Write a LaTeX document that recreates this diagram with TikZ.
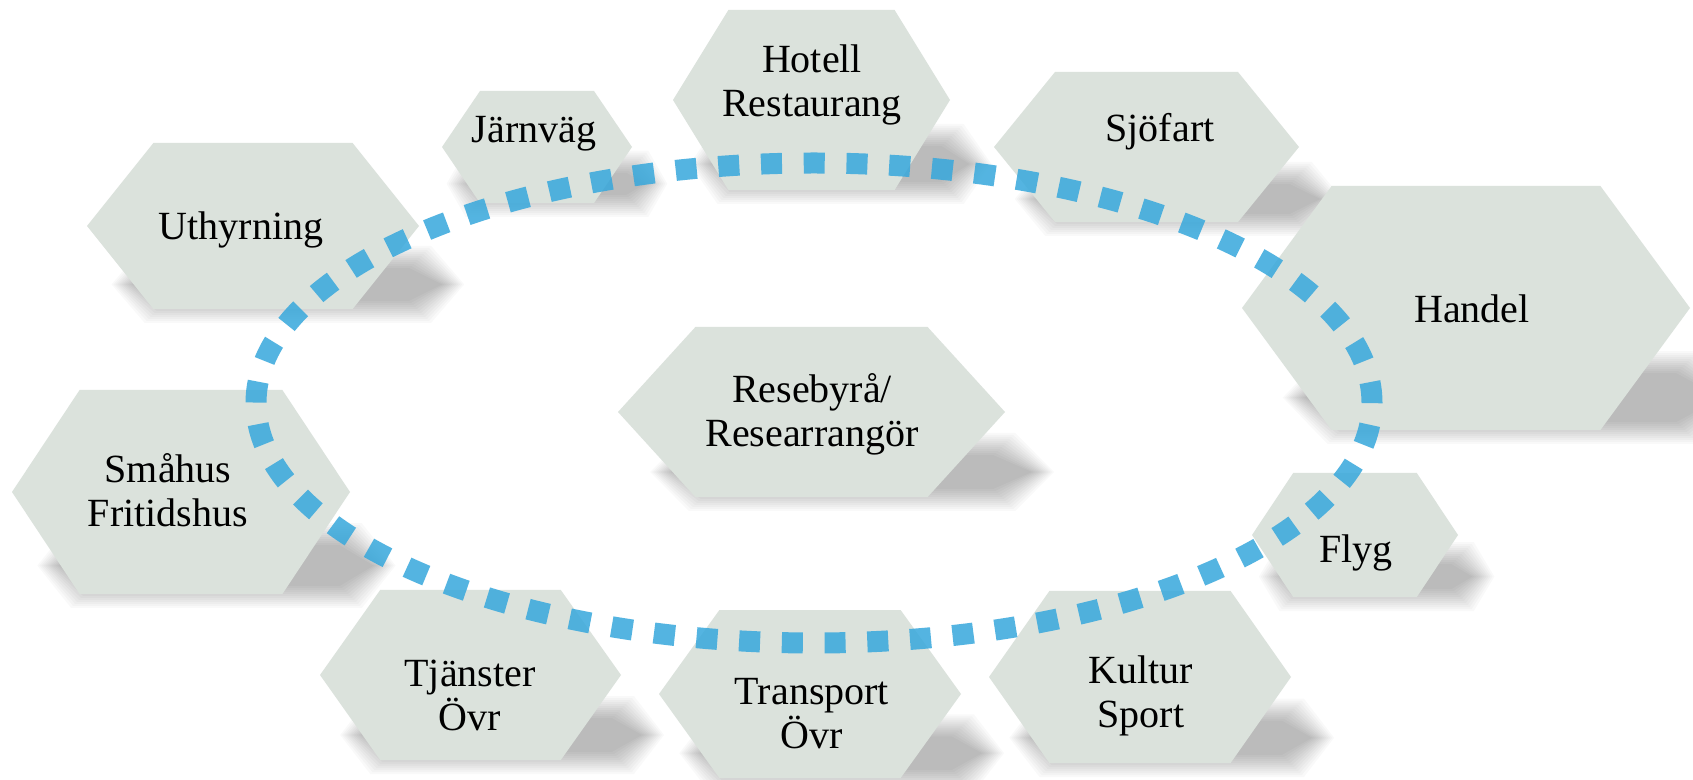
\documentclass[tikz,border=0pt]{standalone}
\usepackage{fontspec}
\setmainfont{Liberation Serif}
\definecolor{hexfill}{RGB}{219,226,220}
\definecolor{dotblue}{RGB}{55,168,220}

\newcommand{\hexshadow}[4]{%
  \pgfmathsetmacro{\hW}{#2-#1}%
  \pgfmathsetmacro{\hH}{#4-#3}%
  \pgfmathsetmacro{\sH}{0.2*\hH}%
  \pgfmathsetmacro{\sL}{#1+0.14*\hW}%
  \pgfmathsetmacro{\sR}{#2+0.07*\hW}%
  \pgfmathsetmacro{\sT}{#4-\sH-8}%
  \pgfmathsetmacro{\sB}{#4-8}%
  \pgfmathsetmacro{\sM}{(\sT+\sB)/2}%
  \pgfmathsetmacro{\sI}{0.1*\hW}%
  \foreach \d in {0,2,...,22}{%
    \fill[black, opacity=0.024]
      (\sL-\d,\sM) -- (\sL+\sI-\d,\sT-\d) -- (\sR-\sI+\d,\sT-\d) -- (\sR+\d,\sM) -- (\sR-\sI+\d,\sB+\d) -- (\sL+\sI-\d,\sB+\d) -- cycle;
  }%
}
\newcommand{\hexbody}[4]{%
  \pgfmathsetmacro{\hI}{0.2*(#2-#1)}%
  \pgfmathsetmacro{\hM}{(#3+#4)/2}%
  \fill[hexfill] (#1,\hM) -- (#1+\hI,#3) -- (#2-\hI,#3) -- (#2,\hM) -- (#2-\hI,#4) -- (#1+\hI,#4) -- cycle;
}

\begin{document}
\begin{tikzpicture}[x=0.5pt,y=-0.5pt,
  lbl/.style={font=\fontsize{20pt}{22pt}\selectfont, align=center, anchor=base, inner sep=0pt},
  ring/.style={dotblue, opacity=0.85, line width=10.5pt, dash pattern=on 10.5pt off 10.875pt}]
\fill[white] (0,0) rectangle (1693,780);
\useasboundingbox (0,0) rectangle (1693,780);

% shadows
\hexshadow{442}{632}{91}{203}
\hexshadow{673}{950}{10}{190}
\hexshadow{994}{1299}{72}{222}
\hexshadow{87}{419}{143}{309}
\hexshadow{1242}{1690}{186}{430}
\hexshadow{12}{350}{390}{594}
\hexshadow{618}{1005}{327}{497}
\hexshadow{1252}{1458}{473}{597}
\hexshadow{320}{621}{590}{760}
\hexshadow{659}{961}{610}{778}
\hexshadow{989}{1291}{591}{763}

% hexagons
\hexbody{442}{632}{91}{203}
\hexbody{673}{950}{10}{190}
\hexbody{994}{1299}{72}{222}
\hexbody{87}{419}{143}{309}
\hexbody{1242}{1690}{186}{430}
\hexbody{12}{350}{390}{594}
\hexbody{618}{1005}{327}{497}
\hexbody{1252}{1458}{473}{597}
\hexbody{320}{621}{590}{760}
\hexbody{659}{961}{610}{778}
\hexbody{989}{1291}{591}{763}

% dotted ring
\coordinate (ringc) at (814,403);
\draw[ring] (ringc) ellipse [x radius=279pt, y radius=120pt];

% labels (anchor base = last line)
\node[lbl] (jarnvag) at (534,143) {Järnväg};
\node[lbl] (hotell) at (812,117) {Hotell\\Restaurang};
\node[lbl] (sjofart) at (1160,142) {Sjöfart};
\node[lbl] (uthyrning) at (241,240) {Uthyrning};
\node[lbl] (handel) at (1472,323) {Handel};
\node[lbl] (smahus) at (168,527) {Småhus\\Fritidshus};
\node[lbl] (resebyra) at (812,447) {Resebyrå/\\Researrangör};
\node[lbl] (flyg) at (1356,563) {Flyg};
\node[lbl] (tjanster) at (470,730) {Tjänster\\Övr};
\node[lbl] (transport) at (812,748) {Transport\\Övr};
\node[lbl] (kultur) at (1141,727) {Kultur\\Sport};
\end{tikzpicture}
\end{document}
